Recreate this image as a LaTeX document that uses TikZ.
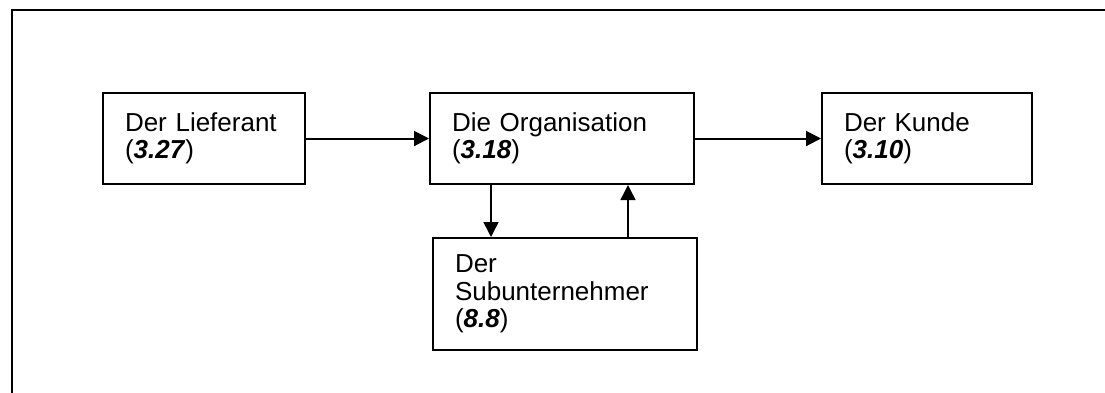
\documentclass[tikz,border=0pt]{standalone}
\usepackage{fontspec}
\setmainfont{Liberation Sans}
\usetikzlibrary{arrows.meta}
\begin{document}
\begin{tikzpicture}[x=1pt,y=-1pt,
    box/.style={draw,line width=2pt,align=left,inner xsep=22pt,font=\fontsize{26}{27.5}\selectfont},
    arr/.style={-{Triangle[length=15pt,width=15pt]}},
  ]
    \useasboundingbox (0,0) rectangle (1105,392);
    \draw [line width=2pt](12,400) |- (1110,10);
    \node [box,minimum width=202pt,minimum height=91pt,text width=158pt] (lief) at (204,138.5) {Der Lieferant\\(\textbf{\textit{3.27}})};
    \node [box,minimum width=264pt,minimum height=91pt,text width=220pt] (org) at (562,138.5) {Die Organisation\\(\textbf{\textit{3.18}})};
    \node [box,minimum width=210pt,minimum height=91pt,text width=166pt] (kunde) at (927,138.5) {Der Kunde\\(\textbf{\textit{3.10}})};
    \node [box,minimum width=264pt,minimum height=112pt,text width=220pt] (sub) at (565,294) {Der\\Subunternehmer\\(\textbf{\textit{8.8}})};
    \coordinate (dn) at (491,0);
    \coordinate (up) at (628,0);
    \draw [arr,line width=2pt](lief) -- (org);
    \draw [arr,line width=2pt](org) -- (kunde);
    \draw [arr,line width=1.5pt](org.south -| dn) -- (sub.north -| dn);
    \draw [arr,line width=1.5pt](sub.north -| up) -- (org.south -| up);
  \end{tikzpicture}
\end{document}
